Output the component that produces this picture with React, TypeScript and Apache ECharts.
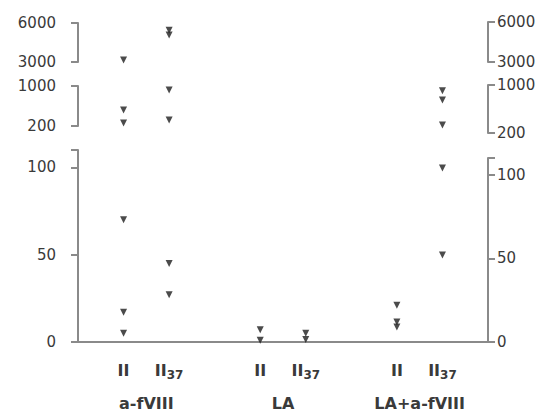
import React, { useEffect, useRef } from 'react';
import * as echarts from 'echarts';

// Conditions (groups) and assays (sub-categories)
const conditions = ['a-fVIII', 'LA', 'LA+a-fVIII'];
const assays = ['II', 'II37'];

// Values (units of the broken y-axis)
const aFVIII_II = [3150, 520, 260, 70, 17, 5];
const aFVIII_II37 = [5450, 5080, 920, 320, 45, 27];
const LA_II = [7, 1];
const LA_II37 = [5, 1.5];
const LAaFVIII_II = [22, 12, 9];
const LAaFVIII_II37 = [905, 750, 333, 104, 52];

// Broken axis segments: [min, max] and tick interval
const segMin = [3000, 200, 0];
const segMax = [6000, 1000, 110];
const segInterval = [3000, 800, 50];

const values = [
  [aFVIII_II, aFVIII_II37],
  [LA_II, LA_II37],
  [LAaFVIII_II, LAaFVIII_II37],
];

export default function App() {
  const ref = useRef<HTMLDivElement>(null);
  useEffect(() => {
    if (!ref.current) return;
    const chart = echarts.init(ref.current, undefined, { renderer: 'svg' });
    const FONT = 'DejaVu Sans';
    const axisColor = '#8a8a8a';
    const textColor = '#3a3a3a';
    const gridL = [
      { top: 23, height: 39 },
      { top: 86, height: 40 },
      { top: 150, height: 192 },
    ];
    const gridR = [
      { top: 22, height: 40 },
      { top: 85, height: 48 },
      { top: 158, height: 184 },
    ];
    const grids = [...gridL, ...gridR].map((g) => ({ left: 78, right: 55, top: g.top, height: g.height }));

    const xAxes: any[] = grids.map((_, i) => ({
      type: 'value',
      gridIndex: i,
      min: 0,
      max: 9,
      interval: 1,
      show: i === 2,
      splitLine: { show: false },
      axisTick: { show: false },
      axisLine: { show: i === 2, onZero: false, lineStyle: { color: axisColor, width: 2 } },
      axisLabel: {
        show: i === 2,
        margin: 18,
        formatter: (v: number) => {
          if (v < 1) return '';
          const k = Math.round(v - 1);
          const a = k % 3;
          if (a > 1) return '';
          return a === 0 ? `{b|${assays[0]}}` : `{b|II}{s|${assays[1].slice(2)}}`;
        },
        rich: {
          b: { fontFamily: FONT, fontSize: 16, fontWeight: 'bold', color: textColor, lineHeight: 20 },
          s: { fontFamily: FONT, fontSize: 12, fontWeight: 'bold', color: textColor, lineHeight: 14, padding: [10, 0, 0, 0] },
        },
      },
    }));
    xAxes.push({
      type: 'value',
      gridIndex: 2,
      position: 'bottom',
      min: 0,
      max: 9,
      interval: 1.5,
      splitLine: { show: false },
      axisTick: { show: false },
      axisLine: { show: false },
      axisLabel: {
        margin: 53,
        fontFamily: FONT,
        fontSize: 16,
        fontWeight: 'bold',
        color: textColor,
        formatter: (v: number) => {
          const k = (v - 1.5) / 3;
          return Number.isInteger(k) && k >= 0 && k < conditions.length ? conditions[k] : '';
        },
      },
    });

    const yAxes: any[] = grids.map((_, i) => {
      const s = i % 3;
      const right = i >= 3;
      return {
        type: 'value',
        gridIndex: i,
        position: right ? 'right' : 'left',
        min: segMin[s],
        max: segMax[s],
        interval: segInterval[s],
        splitLine: { show: false },
        axisLine: { show: true, onZero: false, lineStyle: { color: axisColor, width: 2 } },
        axisTick: { show: true, length: 7, lineStyle: { color: axisColor, width: 2 } },
        axisLabel: {
          margin: right ? 9 : 22,
          fontFamily: FONT,
          fontSize: 15,
          color: textColor,
          formatter: (v: number) => (v === 110 ? '' : String(v)),
        },
      };
    });

    const series: any[] = [];
    values.forEach((byAssay, c) => {
      byAssay.forEach((vals, a) => {
        const x = 1 + 3 * c + a;
        for (let s = 0; s < 3; s++) {
          const data = vals.filter((v) => v >= segMin[s] && v <= segMax[s]).map((v) => [x, v]);
          if (!data.length) continue;
          const gi = (c === 2 ? 3 : 0) + s;
          series.push({
            type: 'scatter',
            name: `${conditions[c]} ${assays[a]}`,
            xAxisIndex: gi,
            yAxisIndex: gi,
            data,
            symbol: 'triangle',
            symbolRotate: 180,
            symbolSize: 7,
            itemStyle: { color: '#1e1e1e' },
            silent: true,
          });
        }
      });
    });

    chart.setOption({
      animation: false,
      backgroundColor: '#ffffff',
      grid: grids,
      xAxis: xAxes,
      yAxis: yAxes,
      series,
    });
    return () => chart.dispose();
  }, []);
  return <div ref={ref} style={{ position: 'fixed', left: 0, top: 0, width: 543, height: 415 }} />;
}
